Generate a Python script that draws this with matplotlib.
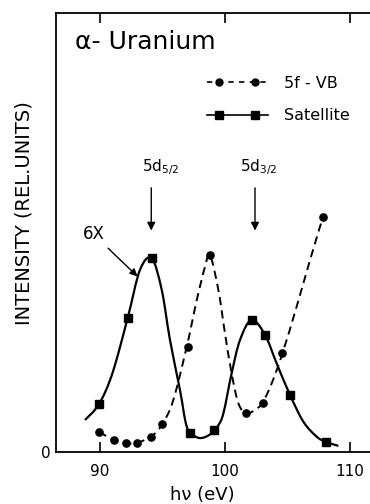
import matplotlib
matplotlib.use("Agg")
import matplotlib.pyplot as plt
from matplotlib.path import Path
from matplotlib.patches import PathPatch
from matplotlib.legend_handler import HandlerLine2D

# measured points (photon energy in eV, intensity in rel. units)
sat_x = [89.92, 92.22, 94.14, 97.2, 99.14, 102.14, 103.2, 105.2, 108.06]
sat_y = [10.9, 30.6, 44.1, 4.4, 5.0, 30.1, 26.7, 13.0, 2.3]

vb_x = [89.92, 91.14, 92.05, 92.94, 94.08, 94.98, 97.02, 98.8,
        101.68, 103.0, 104.6, 107.84]
vb_y = [4.6, 2.7, 2.0, 2.1, 3.5, 6.3, 23.9, 44.9, 8.8, 11.2, 22.5, 53.6]

# hand drawn guide curves
sat_curve_x = [88.8, 89.92, 91.0, 92.22, 93.2, 94.14, 94.94, 95.6, 96.4,
               96.94, 97.6, 98.14, 98.8, 99.4, 99.87, 100.53, 101.2,
               102.13, 103.2, 104.13, 105.2, 106.27, 107.33, 108.08, 109.07]
sat_curve_y = [7.3, 10.9, 18.0, 30.6, 41.5, 44.1, 36.9, 25.5, 14.1,
               5.8, 3.6, 3.2, 4.0, 5.8, 8.8, 17.9, 25.5,
               30.1, 26.7, 20.2, 13.0, 6.9, 3.5, 2.3, 1.4]

vb_curve_x = [89.92, 91.14, 92.05, 92.94, 94.08, 94.98, 95.86, 96.94,
              97.74, 98.4, 98.8, 99.47, 100.0, 100.53, 101.07,
              101.68, 102.4, 103.0, 103.73, 104.6, 105.73, 106.8, 107.84]
vb_curve_y = [4.6, 2.7, 2.0, 2.1, 3.5, 6.3, 11.8, 24.0,
              34.6, 42.2, 44.9, 36.9, 27.0, 17.9, 11.1,
              8.8, 9.6, 11.2, 15.6, 22.5, 33.1, 43.7, 53.6]

xticks = [90, 100, 110]


def smooth_curve(xs, ys):
    # Catmull-Rom through the traced points, drawn as cubic Bezier segments
    pts = list(zip(xs, ys))
    verts = [pts[0]]
    codes = [Path.MOVETO]
    n = len(pts)
    for i in range(n - 1):
        p0 = pts[max(i - 1, 0)]
        p1 = pts[i]
        p2 = pts[i + 1]
        p3 = pts[min(i + 2, n - 1)]
        c1 = (p1[0] + (p2[0] - p0[0]) / 6, p1[1] + (p2[1] - p0[1]) / 6)
        c2 = (p2[0] - (p3[0] - p1[0]) / 6, p2[1] - (p3[1] - p1[1]) / 6)
        verts += [c1, c2, p2]
        codes += [Path.CURVE4] * 3
    return Path(verts, codes)


fig = plt.figure(figsize=(3.7, 5.04), dpi=100)
ax = fig.add_axes([56 / 370, 52 / 504, 314 / 370, 439 / 504])

# Curves
ax.add_patch(PathPatch(smooth_curve(sat_curve_x, sat_curve_y), fill=False,
                       ec="k", lw=1.6))
ax.add_patch(PathPatch(smooth_curve(vb_curve_x, vb_curve_y), fill=False,
                       ec="k", lw=1.4, ls=(0, (4.2, 2.7))))
ax.plot(sat_x, sat_y, ls="none", marker="s", ms=5.8, color="k")
ax.plot(vb_x, vb_y, ls="none", marker="o", ms=5.2, color="k")

# legend entries: full-length line with the two markers set inwards
l_vb, = ax.plot([], [], color="k", lw=1.2, dashes=(3.2, 3.2))
m_vb, = ax.plot([], [], ls="none", color="k", marker="o", ms=5)
l_sat, = ax.plot([], [], color="k", lw=1.2)
m_sat, = ax.plot([], [], ls="none", color="k", marker="s", ms=5.5)
inset = HandlerLine2D(numpoints=2, marker_pad=1.07)
leg = ax.legend([(l_vb, m_vb), (l_sat, m_sat)], ["5f - VB", "Satellite"],
                numpoints=2, handlelength=4.4, handletextpad=0.7,
                labelspacing=1.1, frameon=False, fontsize=11.5,
                handler_map={m_vb: inset, m_sat: inset},
                loc="upper left", bbox_to_anchor=(0.42, 0.89))

# Axes styling
ax.set_xlim(86.48, 111.6)
ax.set_ylim(0, 100)
ax.spines["right"].set_visible(False)
for s in ["left", "top", "bottom"]:
    ax.spines[s].set_linewidth(1.3)
ax.set_xticks(xticks)
ax.set_xticklabels([str(t) for t in xticks])
ax.tick_params(axis="x", direction="in", length=7, width=1.2, top=True,
               labelsize=11, pad=9)
ax.set_yticks([0])
ax.set_yticklabels(["0"])
ax.tick_params(axis="y", length=0, labelsize=11, pad=4)

ax.set_xlabel("hν (eV)", fontsize=13)
ax.xaxis.set_label_coords(0.465, -0.078)
ax.set_ylabel("INTENSITY (REL.UNITS)", fontsize=14)
ax.yaxis.set_label_coords(-0.073, 0.544)

# Title and annotations
ax.text(0.06, 0.962, "α- Uranium", transform=ax.transAxes, fontsize=18,
        va="top", ha="left")
arrow = dict(arrowstyle="-|>", color="k", lw=1, mutation_scale=12)
ax.annotate("", xy=(94.1, 49.8), xytext=(94.1, 60.8), arrowprops=arrow)
ax.annotate("", xy=(102.4, 49.8), xytext=(102.4, 60.8), arrowprops=arrow)
ax.text(93.4, 64, "5d$_{\\mathregular{5/2}}$", fontsize=11, ha="left")
ax.text(101.2, 64, "5d$_{\\mathregular{3/2}}$", fontsize=11, ha="left")
ax.annotate("6X", xy=(93.0, 40.0), xytext=(89.5, 47.5),
            fontsize=12, ha="center", va="bottom",
            arrowprops=dict(arrowstyle="-|>", color="k", lw=1,
                            mutation_scale=11, shrinkA=2, shrinkB=0))

fig.savefig("out.png", dpi=100)
